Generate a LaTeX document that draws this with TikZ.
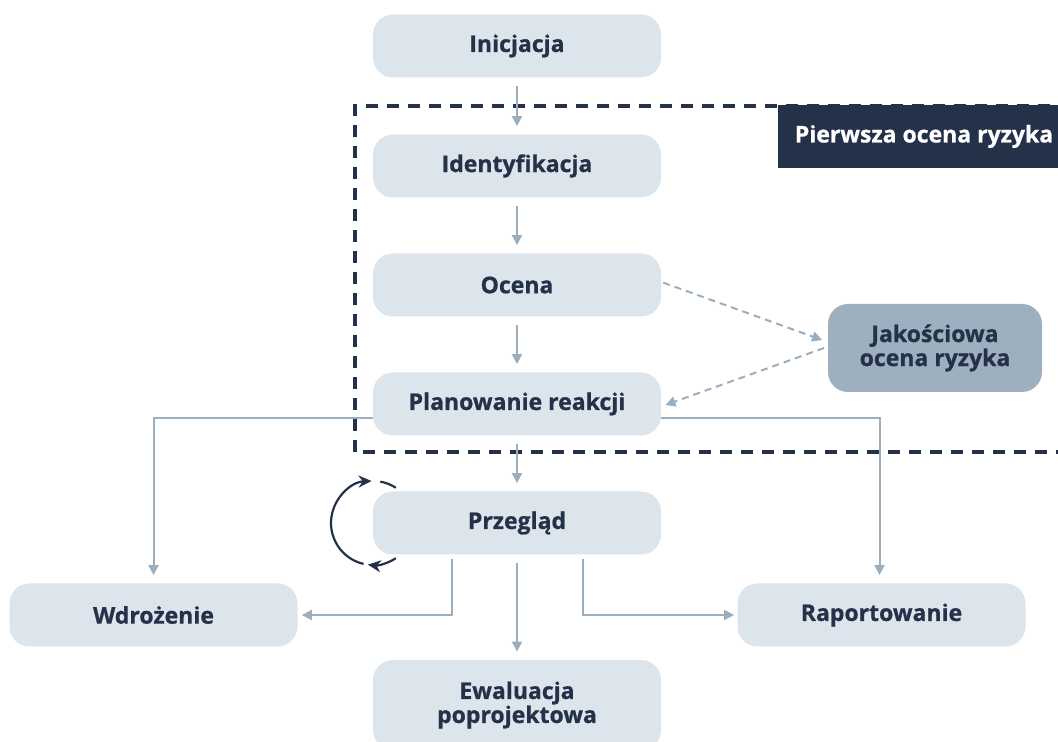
\documentclass[tikz,border=0pt]{standalone}
\usepackage{fontspec}
\setmainfont{Open Sans}[BoldFeatures={FakeBold=0.8}]
\usetikzlibrary{arrows.meta,calc}
\definecolor{navy}{HTML}{243249}
\definecolor{boxgray}{HTML}{DCE4EC}
\definecolor{linegray}{HTML}{9BAEBE}
\definecolor{qualgray}{HTML}{9EB0BF}
\begin{document}
\begin{tikzpicture}[x=0.5pt,y=0.5pt,
  stage/.style={rounded corners=10pt, fill=boxgray, text=navy,
    font=\fontsize{11.5}{12}\selectfont\bfseries,
    minimum width=144pt, minimum height=31.5pt, align=center, inner sep=0pt},
  arr/.style={draw=linegray, line width=1pt, -{Triangle[length=5pt,width=5pt]}},
  dasharr/.style={arr, dash pattern=on 3.5pt off 2.5pt},
  looparr/.style={draw=navy, line width=1.1pt, -{Stealth[length=6.5pt,width=6pt]}}]

  \useasboundingbox (0,0) rectangle (1058,742);

  %% frame of the first assessment
  \draw[navy, line width=2pt, dash pattern=on 6pt off 4.5pt]
  (355,290) rectangle (1090,636);
  \node[fill=navy, text=white, minimum width=146pt, minimum height=31.5pt,
    inner sep=0pt, font=\fontsize{11.5}{12}\selectfont\bfseries]
  (lbl) at (924,605.5) {Pierwsza ocena ryzyka};

  %% review loop
  \coordinate (lc) at (373,219);
  \draw[looparr] ($(lc)+(303:21pt)$) arc[start angle=303, end angle=263, radius=21pt];
  \draw[looparr] ($(lc)+(257:21pt)$) arc[start angle=257, end angle=92, radius=21pt];
  \draw[navy, line width=1.1pt] ($(lc)+(80:21pt)$) arc[start angle=80, end angle=57, radius=21pt];

  \node[stage] (ini) at (517,696) {Inicjacja};
  \node[stage] (ide) at (517,576) {Identyfikacja};
  \node[stage] (oce) at (517,457) {Ocena};
  \node[stage] (pla) at (517,338) {Planowanie reakcji};
  \node[stage] (prz) at (517,219) {Przegląd};
  \node[stage, minimum height=45pt] (ewa) at (517,37) {Ewaluacja\\poprojektowa};
  \node[stage] (wdr) at (153.5,127) {Wdrożenie};
  \node[stage] (rap) at (881.5,127) {Raportowanie};
  \node[stage, fill=qualgray, minimum width=107pt, minimum height=44pt]
  (jak) at (935,394) {Jakościowa\\ocena ryzyka};

  \foreach \a/\b in {ini/ide, ide/oce, oce/pla, pla/prz, prz/ewa}
  \draw[arr, shorten <=4pt, shorten >=4pt] (\a) -- (\b);

  \draw[arr, shorten >=4pt] ([yshift=-7pt]pla.west) -| (wdr); %% pla -> wdr
  \draw[arr, shorten >=4pt] ([yshift=-7pt]pla.east) -| ([xshift=-1pt]rap.north); %% pla -> rap
  \draw[arr, shorten <=2pt, shorten >=2pt] ([xshift=-32.5pt]prz.south) |- (wdr.east);
  \draw[arr, shorten <=2pt, shorten >=1.5pt] ([xshift=33pt]prz.south) |- (rap.west);

  \draw[dasharr, shorten <=1pt] ([yshift=1.5pt]oce.east) -- ([xshift=-2.75pt,yshift=4pt]jak.west);
  \draw[dasharr] ([xshift=-1.75pt]jak.west) -- ([xshift=2pt,yshift=-0.5pt]pla.east);

\end{tikzpicture}
\end{document}
